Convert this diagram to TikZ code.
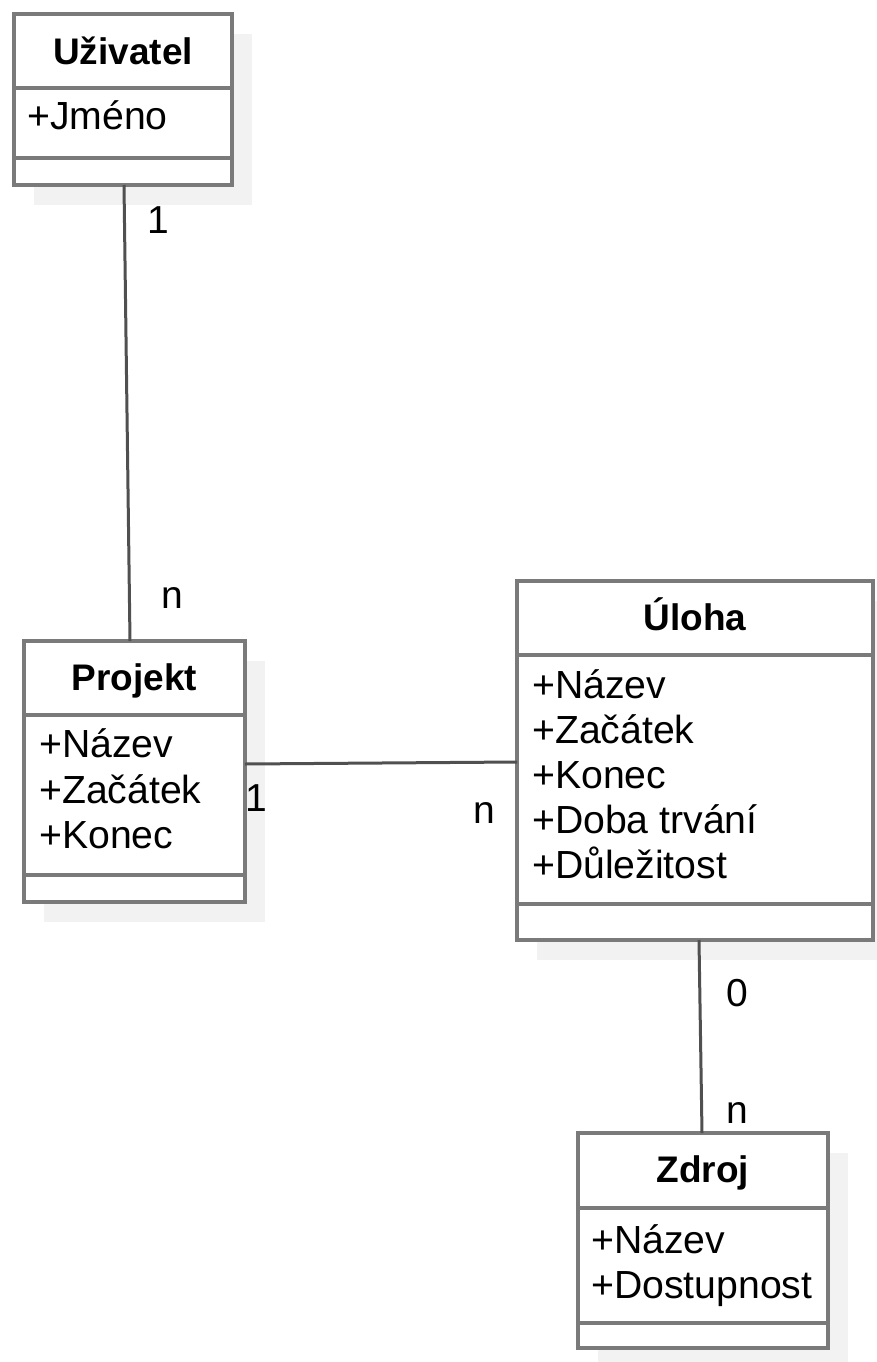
\documentclass[tikz,border=0pt]{standalone}
\usepackage{fontspec}
\setmainfont{Liberation Sans}
\usetikzlibrary{calc,shadows}
\definecolor{boxgray}{RGB}{122,122,122}
\definecolor{linegray}{RGB}{80,80,80}
\definecolor{shadowgray}{RGB}{242,242,242}
\begin{document}
\begin{tikzpicture}[x=1pt,y=-1pt,
  classbox/.style={draw=boxgray, line width=4pt, fill=white, inner sep=0pt, outer sep=0pt,
    anchor=north west, drop shadow={shadow xshift=20pt, shadow yshift=-20pt, fill=shadowgray, opacity=1}},
  sepline/.style={draw=boxgray, line width=4pt},
  conn/.style={draw=linegray, line width=3pt},
  ctitle/.style={font=\fontsize{37}{44}\selectfont\bfseries, anchor=base, inner sep=0pt},
  cattr/.style={font=\fontsize{39.2}{45}\selectfont, anchor=base west, inner sep=0pt},
  mult/.style={font=\fontsize{39}{45}\selectfont, anchor=base, inner sep=0pt}]
\useasboundingbox (0,0) rectangle (876,1362);

% Uzivatel
\node[classbox, minimum width=218pt, minimum height=171pt] (uziv) at (14,14) {};
\draw[sepline] ($(uziv.north west)+(0,74)$) -- ($(uziv.north east)+(0,74)$);
\draw[sepline] ($(uziv.north west)+(0,144)$) -- ($(uziv.north east)+(0,144)$);
\node[ctitle] (uziv-t) at (123,65) {Uživatel};
\node[cattr] (uziv-a1) at (27,130) {+Jméno};

% Projekt
\node[classbox, minimum width=221pt, minimum height=261pt] (proj) at (24,641) {};
\draw[sepline] ($(proj.north west)+(0,74)$) -- ($(proj.north east)+(0,74)$);
\draw[sepline] ($(proj.north west)+(0,234)$) -- ($(proj.north east)+(0,234)$);
\node[ctitle] (proj-t) at (134.5,690) {Projekt};
\node[cattr] (proj-a1) at (39,757) {+Název};
\node[cattr] (proj-a2) at (39,803) {+Začátek};
\node[cattr] (proj-a3) at (39,848) {+Konec};

% Uloha
\node[classbox, minimum width=356pt, minimum height=359pt] (ulo) at (517,581) {};
\draw[sepline] ($(ulo.north west)+(0,74)$) -- ($(ulo.north east)+(0,74)$);
\draw[sepline] ($(ulo.north west)+(0,323)$) -- ($(ulo.north east)+(0,323)$);
\node[ctitle] (ulo-t) at (695,630) {Úloha};
\node[cattr] (ulo-a1) at (532,698) {+Název};
\node[cattr] (ulo-a2) at (532,743) {+Začátek};
\node[cattr] (ulo-a3) at (532,788) {+Konec};
\node[cattr] (ulo-a4) at (532,833) {+Doba trvání};
\node[cattr] (ulo-a5) at (532,878) {+Důležitost};

% Zdroj
\node[classbox, minimum width=250pt, minimum height=215pt] (zdr) at (578,1133) {};
\draw[sepline] ($(zdr.north west)+(0,75)$) -- ($(zdr.north east)+(0,75)$);
\draw[sepline] ($(zdr.north west)+(0,190)$) -- ($(zdr.north east)+(0,190)$);
\node[ctitle] (zdr-t) at (703,1182) {Zdroj};
\node[cattr] (zdr-a1) at (591,1253) {+Název};
\node[cattr] (zdr-a2) at (591,1298) {+Dostupnost};

% connectors
\draw[conn] ([xshift=1pt]uziv.south) -- ([xshift=-4.5pt]proj.north);
\draw[conn] ([yshift=7.5pt]proj.east) -- ([yshift=-1.5pt]ulo.west);
\draw[conn] ([xshift=4pt]ulo.south) -- ([xshift=-1pt]zdr.north);

% multiplicities
\node[mult] (m1) at (158,233) {1};
\node[mult] (m2) at (172,608) {n};
\node[mult] (m3) at (256,811) {1};
\node[mult] (m4) at (484,823) {n};
\node[mult] (m5) at (737,1006) {0};
\node[mult] (m6) at (737,1123) {n};
\end{tikzpicture}
\end{document}
